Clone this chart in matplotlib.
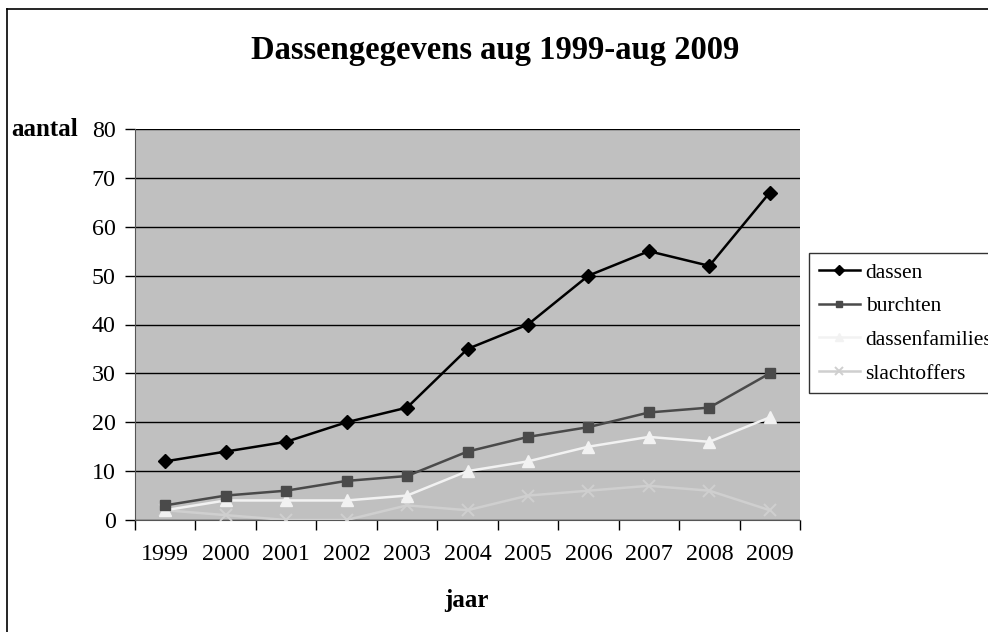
import matplotlib
matplotlib.use("Agg")
import matplotlib.pyplot as plt
from matplotlib.lines import Line2D

years = ["1999", "2000", "2001", "2002", "2003", "2004", "2005", "2006", "2007", "2008", "2009"]
dassen = [12, 14, 16, 20, 23, 35, 40, 50, 55, 52, 67]
burchten = [3, 5, 6, 8, 9, 14, 17, 19, 22, 23, 30]
dassenfamilies = [2, 4, 4, 4, 5, 10, 12, 15, 17, 16, 21]
slachtoffers = [2, 1, 0, 0, 3, 2, 5, 6, 7, 6, 2]
yticks = [0, 10, 20, 30, 40, 50, 60, 70, 80]

plt.rcParams['font.family'] = ['Liberation Serif', 'DejaVu Serif']

W, H = 988, 632
fig = plt.figure(figsize=(W / 100, H / 100), dpi=100)

def fx(px):
    return px / W

def fy(py):
    return 1 - py / H

# outer border (left and top visible)
fig.add_artist(Line2D([fx(7), fx(7)], [fy(9), 0], color='black', lw=1.2, transform=fig.transFigure))
fig.add_artist(Line2D([fx(7), 1], [fy(9), fy(9)], color='black', lw=1.2, transform=fig.transFigure))

left, right, top, bottom = 135, 800, 129, 520
ax = fig.add_axes([fx(left), fy(bottom), fx(right - left), fy(top) - fy(bottom)])
ax.set_facecolor('#C0C0C0')

x = list(range(len(years)))
ax.plot(x, slachtoffers, color='#CFCFCF', marker='x', ms=8, mew=1.4, lw=1.8, label='slachtoffers', zorder=3)
ax.plot(x, dassenfamilies, color='#F2F2F2', marker='^', ms=8, lw=1.8, label='dassenfamilies', zorder=4)
ax.plot(x, burchten, color='#4A4A4A', marker='s', ms=7, lw=1.8, label='burchten', zorder=5)
ax.plot(x, dassen, color='black', marker='D', ms=7, lw=1.8, label='dassen', zorder=6)

ax.set_xlim(-0.5, len(years) - 0.5)
ax.set_ylim(0, 80)
ax.set_yticks(yticks)
ax.set_yticklabels([str(v) for v in yticks], fontsize=17.3)
ax.yaxis.grid(True, color='black', lw=1.0)
ax.set_axisbelow(True)

# category boundary ticks
ax.set_xticks([i - 0.5 for i in range(len(years) + 1)])
ax.set_xticklabels([])
ax.set_xticks(x, minor=True)
ax.set_xticklabels(years, minor=True, fontsize=17.3)
ax.tick_params(axis='x', which='minor', length=0, pad=17)
ax.tick_params(axis='x', which='major', length=7, width=1, direction='out')
ax.tick_params(axis='y', length=7, width=1, direction='out', pad=7)

for s in ['top', 'right']:
    ax.spines[s].set_visible(False)
ax.spines['left'].set_color('#555555')
ax.spines['bottom'].set_color('#555555')

handles, labels = ax.get_legend_handles_labels()
order = [3, 2, 1, 0]
leg = fig.legend([handles[i] for i in order], [labels[i] for i in order],
                 loc='upper left', bbox_to_anchor=(fx(809), fy(253)),
                 fontsize=15.5, frameon=True, fancybox=False, edgecolor='black',
                 handlelength=1.9, handletextpad=0.28, borderpad=0.45, borderaxespad=0,
                 labelspacing=0.63, markerscale=0.7)
leg.get_frame().set_linewidth(1.0)

fig.text(fx(495), fy(50), 'Dassengegevens aug 1999-aug 2009', ha='center', va='center',
         fontsize=23.5, fontweight='bold')
fig.text(fx(45), fy(129), 'aantal', ha='center', va='center', fontsize=18, fontweight='bold')
fig.text(fx(466), fy(600), 'jaar', ha='center', va='center', fontsize=18, fontweight='bold')

fig.savefig('out.png', dpi=100)
